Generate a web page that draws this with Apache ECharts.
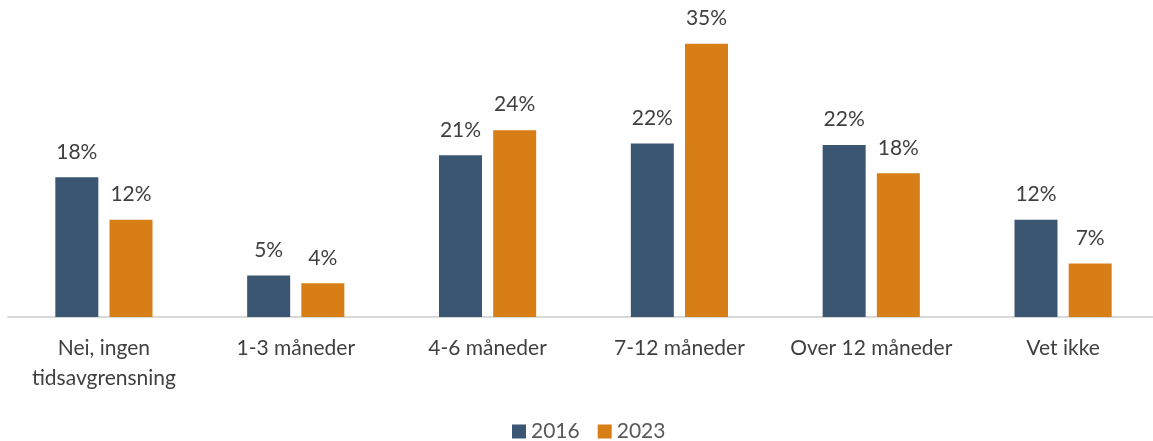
<!DOCTYPE html>
<html>
<head>
<meta charset="utf-8">
<script src="https://cdn.jsdelivr.net/npm/echarts@6/dist/echarts.min.js"></script>
<style>
  html, body { margin: 0; padding: 0; background: #fff; overflow: hidden; }
  #chart { width: 1162px; height: 441px; }
</style>
</head>
<body>
<div id="chart"></div>
<script>
var categories = ['Nei, ingen\ntidsavgrensning', '1-3 måneder', '4-6 måneder', '7-12 måneder', 'Over 12 måneder', 'Vet ikke'];
var seriesNames = ['2016', '2023'];
var values2016 = [17.8, 5.3, 20.6, 22.1, 21.9, 12.4];
var values2023 = [12.4, 4.3, 23.8, 34.8, 18.3, 6.8];

var fontName = 'Lato';
var chart = echarts.init(document.getElementById('chart'));

function pctLabel(p) {
	return Math.round(p.value) + '%';
}

var option = {
	animation: false,
	grid: { left: 8, right: 3, top: 3, bottom: 124 },
	legend: {
		data: seriesNames,
		left: 512,
		top: 421,
		padding: 0,
		itemWidth: 14,
		itemHeight: 14,
		itemGap: 18,
		icon: 'rect',
		textStyle: { fontFamily: fontName, fontSize: 21, color: '#595959' }
	},
	xAxis: {
		type: 'category',
		data: categories,
		axisLine: { lineStyle: { color: '#d9d9d9', width: 2 } },
		axisTick: { show: false },
		axisLabel: {
			interval: 0,
			margin: 16,
			fontFamily: fontName,
			fontSize: 21,
			lineHeight: 30,
			color: '#404040'
		}
	},
	yAxis: {
		type: 'value',
		min: 0,
		max: 40,
		show: false,
		splitLine: { show: false }
	},
	series: [
		{
			name: '2016',
			type: 'bar',
			data: values2016,
			barWidth: 43,
			barGap: '26%',
			itemStyle: { color: '#3a5673' },
			label: {
				show: true,
				position: 'top',
				distance: 15,
				formatter: pctLabel,
				fontFamily: fontName,
				fontSize: 21,
				color: '#404040'
			}
		},
		{
			name: '2023',
			type: 'bar',
			data: values2023,
			barWidth: 43,
			barGap: '26%',
			itemStyle: { color: '#d77e17' },
			label: {
				show: true,
				position: 'top',
				distance: 15,
				formatter: pctLabel,
				fontFamily: fontName,
				fontSize: 21,
				color: '#404040'
			}
		}
	]
};
chart.setOption(option);
</script>
</body>
</html>
